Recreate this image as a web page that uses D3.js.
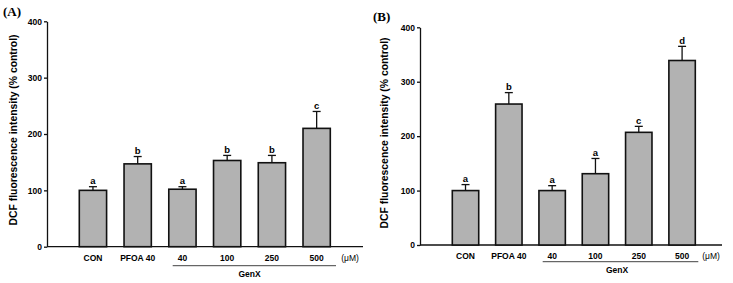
<!DOCTYPE html>
<html>
<head>
	<meta charset="utf-8">
	<script src="https://cdn.jsdelivr.net/npm/d3@7"></script>
	<style>
		body { margin: 0; background: #fff; }
		text { font-family: "Liberation Sans", Arial, sans-serif; font-weight: bold; fill: #000; }
		.bar { fill: #b2b2b2; stroke: #111; stroke-width: 1.6; }
		.err { stroke: #111; stroke-width: 1.3; fill: none; }
		.axis path, .axis line { stroke: #111; stroke-width: 1.3; }
		.panel { font-family: "Liberation Serif", "Times New Roman", serif; font-size: 13px; }
	</style>
</head>
<body>
	<svg width="733" height="283"></svg>

	<script>
		var categories = ["CON", "PFOA 40", "40", "100", "250", "500"];
		var yTicks = [0, 100, 200, 300, 400];

		// panel A
		var meansA = [100, 147, 102, 153, 149, 210];
		var errA = [6.5, 13, 4.5, 9, 13, 30];
		var lettersA = ["a", "b", "a", "b", "b", "c"];

		// panel B
		var meansB = [100, 259, 100, 131, 207, 339];
		var errB = [11, 21, 9, 28, 11, 26];
		var lettersB = ["a", "b", "a", "a", "c", "d"];

		var svg = d3.select("svg");

		function drawPanel(p) {
			var g = svg.append("g");

			var y = d3.scaleLinear().domain([0, 400]).range([p.y0, p.y1]);
			var x = d3.scaleBand().domain(categories)
				.range([p.xs, p.xe]).paddingInner(0.39).paddingOuter(0);

			// y axis
			g.append("g")
				.attr("class", "axis")
				.attr("transform", "translate(" + p.ax + ",0)")
				.call(d3.axisLeft(y).tickValues(yTicks).tickSize(3).tickSizeOuter(0))
				.call(function(s) {
					s.selectAll("text").style("font-size", "8.5px").attr("x", -5);
				});

			// x axis line
			g.append("line")
				.attr("class", "err")
				.attr("x1", p.ax).attr("x2", p.axEnd)
				.attr("y1", y(0)).attr("y2", y(0));

			g.selectAll(".bar")
				.data(p.means)
				.enter()
				.append("rect")
				.attr("class", "bar")
				.attr("x", function(d, i) { return x(categories[i]); })
				.attr("width", x.bandwidth())
				.attr("y", function(d) { return y(d); })
				.attr("height", function(d) { return y(0) - y(d); });

			var cx = function(i) { return x(categories[i]) + x.bandwidth() / 2; };

			g.selectAll(".evert")
				.data(p.means)
				.enter()
				.append("line")
				.attr("class", "err")
				.attr("x1", function(d, i) { return cx(i); })
				.attr("x2", function(d, i) { return cx(i); })
				.attr("y1", function(d) { return y(d); })
				.attr("y2", function(d, i) { return y(d + p.err[i]); });

			g.selectAll(".ecap")
				.data(p.means)
				.enter()
				.append("line")
				.attr("class", "err")
				.attr("x1", function(d, i) { return cx(i) - 4; })
				.attr("x2", function(d, i) { return cx(i) + 4; })
				.attr("y1", function(d, i) { return y(d + p.err[i]); })
				.attr("y2", function(d, i) { return y(d + p.err[i]); });

			g.selectAll(".letter")
				.data(p.letters)
				.enter()
				.append("text")
				.attr("x", function(d, i) { return cx(i); })
				.attr("y", function(d, i) { return y(p.means[i] + p.err[i]) - 2.5; })
				.attr("text-anchor", "middle")
				.style("font-size", "9.5px")
				.text(function(d) { return d; });

			// category labels
			g.selectAll(".cat")
				.data(categories)
				.enter()
				.append("text")
				.attr("x", function(d, i) { return cx(i); })
				.attr("y", p.labY)
				.attr("text-anchor", "middle")
				.style("font-size", "8.5px")
				.text(function(d) { return d; });

			g.append("text")
				.attr("x", p.umX)
				.attr("y", p.labY)
				.attr("text-anchor", "middle")
				.style("font-size", "8.5px")
				.style("font-weight", "normal")
				.text("(μM)");

			// GenX bracket
			g.append("line")
				.attr("class", "err")
				.style("stroke-width", 0.8)
				.attr("x1", p.gxStart).attr("x2", p.gxEnd)
				.attr("y1", p.gxLineY).attr("y2", p.gxLineY);

			g.append("text")
				.attr("x", (cx(2) + cx(5)) / 2)
				.attr("y", p.gxLineY + 11)
				.attr("text-anchor", "middle")
				.style("font-size", "8.5px")
				.text("GenX");

			g.append("text")
				.attr("transform", "translate(" + p.titleX + "," + p.titleY + ") rotate(-90)")
				.attr("text-anchor", "middle")
				.style("font-size", "10.4px")
				.text("DCF fluorescence intensity (% control)");

			g.append("text")
				.attr("class", "panel")
				.attr("x", p.plX)
				.attr("y", p.plY)
				.text(p.label);
		}

		drawPanel({
			label: "(A)", plX: 3, plY: 16,
			means: meansA, err: errA, letters: lettersA,
			ax: 47, axEnd: 363, y0: 246.7, y1: 21.3,
			xs: 79.3, xe: 330.3, labY: 261,
			umX: 350, gxStart: 172.7, gxEnd: 336, gxLineY: 265.7,
			titleX: 17, titleY: 130
		});

		drawPanel({
			label: "(B)", plX: 373, plY: 21,
			means: meansB, err: errB, letters: lettersB,
			ax: 420, axEnd: 722, y0: 245, y1: 27.3,
			xs: 452.3, xe: 695.3, labY: 259,
			umX: 711, gxStart: 542.7, gxEnd: 698.3, gxLineY: 261.7,
			titleX: 388, titleY: 133
		});
	</script>
</body>
</html>
